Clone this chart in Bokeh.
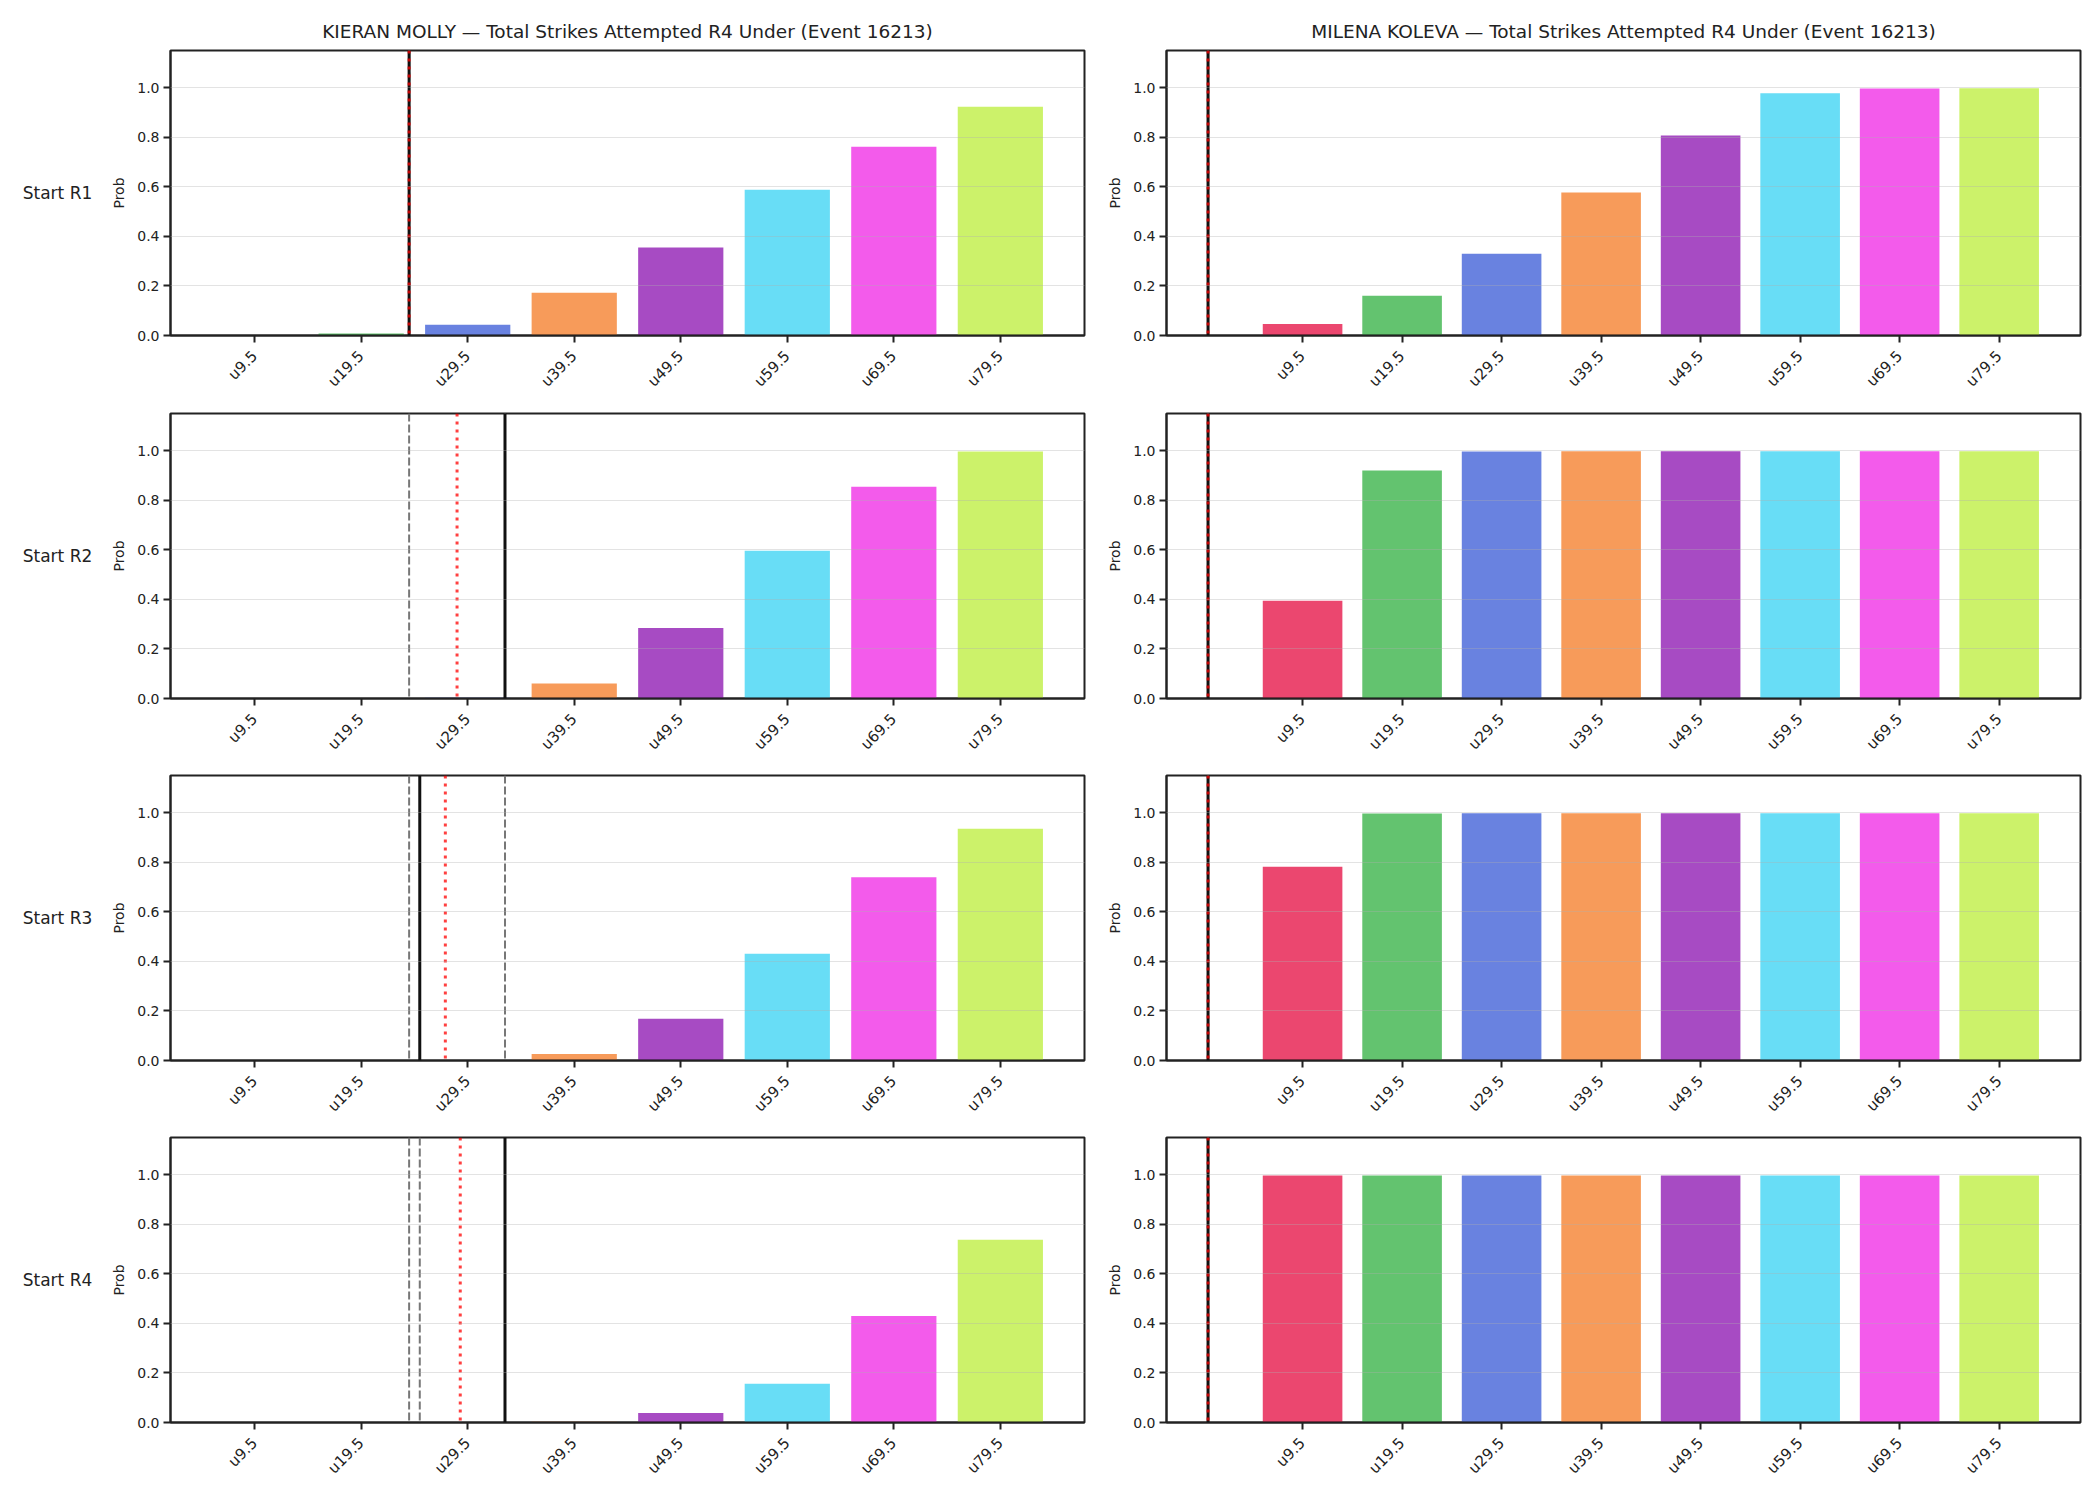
import math
from bokeh.plotting import figure
from bokeh.layouts import row, column
from bokeh.models import Range1d, FixedTicker, PrintfTickFormatter, Span
from bokeh.embed import file_html
from bokeh.resources import INLINE
from bokeh.core.properties import value

# ---------------- data ----------------
thresholds = [9.5, 19.5, 29.5, 39.5, 49.5, 59.5, 69.5, 79.5]
tick_labels = ["u9.5", "u19.5", "u29.5", "u39.5", "u49.5", "u59.5", "u69.5", "u79.5"]
bar_colors = ["#E6194B", "#3CB44B", "#4363D8", "#F58231", "#911EB4", "#42D4F4", "#F032E6", "#BFEF45"]
row_labels = ["Start R1", "Start R2", "Start R3", "Start R4"]
players = ["KIERAN MOLLY", "MILENA KOLEVA"]
title_suffix = " \u2014 Total Strikes Attempted R4 Under (Event 16213)"

kieran_r1 = [0.0, 0.008, 0.043, 0.172, 0.355, 0.588, 0.762, 0.923]
kieran_r2 = [0.0, 0.0, 0.003, 0.061, 0.284, 0.596, 0.854, 0.997]
kieran_r3 = [0.0, 0.0, 0.0, 0.026, 0.168, 0.431, 0.739, 0.935]
kieran_r4 = [0.0, 0.0, 0.0, 0.003, 0.038, 0.156, 0.430, 0.737]
milena_r1 = [0.046, 0.160, 0.330, 0.577, 0.807, 0.977, 0.997, 0.998]
milena_r2 = [0.394, 0.920, 0.997, 0.998, 0.998, 0.998, 0.998, 0.998]
milena_r3 = [0.782, 0.997, 0.998, 0.998, 0.998, 0.998, 0.998, 0.998]
milena_r4 = [0.997, 0.997, 0.997, 0.997, 0.997, 0.997, 0.997, 0.997]

# reference lines (in strikes): current (black), projection (red), range (gray)
kieran_current = [24, 33, 25, 33]
kieran_projection = [24, 28.5, 27.4, 28.8]
kieran_low = [24, 24, 24, 24]
kieran_high = [24, 33, 33, 25]
milena_current = [0, 0, 0, 0]
milena_projection = [0, 0, 0, 0]
milena_low = [0, 0, 0, 0]
milena_high = [0, 0, 0, 0]

probs = [[kieran_r1, kieran_r2, kieran_r3, kieran_r4],
         [milena_r1, milena_r2, milena_r3, milena_r4]]
currents = [kieran_current, milena_current]
projections = [kieran_projection, milena_projection]
lows = [kieran_low, milena_low]
highs = [kieran_high, milena_high]

# ---------------- layout ----------------
FONT = "DejaVu Sans"
INK = "#222222"
heights = [405, 362, 362, 371]
tops = [50, 8, 8, 8]
bottoms = [70, 69, 69, 78]
BAR_W = 8.0
Y_MAX = 1.15


def style_axes(p):
    p.xgrid.visible = False
    p.ygrid.grid_line_color = "#b0b0b0"
    p.ygrid.grid_line_alpha = 0.35
    p.ygrid.level = "overlay"
    p.outline_line_color = INK
    p.outline_line_width = 2
    p.outline_line_alpha = 1
    for ax in (p.xaxis[0], p.yaxis[0]):
        ax.axis_line_color = INK
        ax.axis_line_width = 2
        ax.major_tick_line_color = INK
        ax.major_tick_line_width = 2
        ax.major_tick_out = 7
        ax.major_tick_in = 0
        ax.minor_tick_line_color = None
        ax.major_label_text_font = FONT
        ax.major_label_text_color = INK
    p.yaxis.major_label_text_font_size = "14px"
    p.xaxis.major_label_text_font_size = "15px"
    p.yaxis.ticker = FixedTicker(ticks=[0.0, 0.2, 0.4, 0.6, 0.8, 1.0])
    p.yaxis.formatter = PrintfTickFormatter(format="%.1f")
    p.yaxis.major_label_standoff = 4
    p.yaxis.axis_label = "Prob"
    p.yaxis.axis_label_text_font = FONT
    p.yaxis.axis_label_text_font_size = "14px"
    p.yaxis.axis_label_text_font_style = "normal"
    p.yaxis.axis_label_text_color = INK
    p.yaxis.axis_label_standoff = 7
    p.xaxis.ticker = FixedTicker(ticks=thresholds)
    p.xaxis.major_label_overrides = {t: l for t, l in zip(thresholds, tick_labels)}
    p.xaxis.major_label_orientation = math.pi / 4
    p.xaxis.major_label_standoff = 11


rows = []
for r in range(4):
    lab = figure(width=100, height=heights[r], x_range=Range1d(0, 100), y_range=Range1d(0, Y_MAX),
                 min_border_left=0, min_border_right=0, min_border_top=tops[r],
                 min_border_bottom=bottoms[r], toolbar_location=None, output_backend="svg")
    lab.axis.visible = False
    lab.grid.visible = False
    lab.outline_line_color = None
    lab.text(x=[57], y=[Y_MAX / 2], text=[row_labels[r]], text_align="center",
             text_baseline="middle", text_font=value(FONT), text_font_size="17px",
             text_color=INK)
    cells = [lab]
    for c in range(2):
        marks = [currents[c][r], projections[c][r], lows[c][r], highs[c][r]]
        lo = min(min(marks), thresholds[0] - BAR_W / 2)
        hi = max(max(marks), thresholds[-1] + BAR_W / 2)
        pad = 0.05 * (hi - lo)
        if c == 0:
            w, mbl, mbr = 986, 70, 2
        else:
            w, mbl, mbr = 1014, 80, 20
        p = figure(width=w, height=heights[r], x_range=Range1d(lo - pad, hi + pad),
                   y_range=Range1d(0, Y_MAX), min_border_left=mbl, min_border_right=mbr,
                   min_border_top=tops[r], min_border_bottom=bottoms[r],
                   toolbar_location=None, output_backend="svg")
        if r == 0:
            p.title.text = players[c] + title_suffix
            p.title.align = "center"
            p.title.text_font = FONT
            p.title.text_font_size = "18.5px"
            p.title.text_font_style = "normal"
            p.title.text_color = INK
            p.title.standoff = 17
        p.vbar(x=thresholds, top=probs[c][r], width=BAR_W, fill_color=bar_colors,
               fill_alpha=0.8, line_color=None)
        for v in (lows[c][r], highs[c][r]):
            p.add_layout(Span(location=v, dimension="height", line_color="#777777",
                              line_width=2, line_dash="8 3"))
        p.add_layout(Span(location=currents[c][r], dimension="height", line_color="#111111",
                          line_width=3))
        p.add_layout(Span(location=projections[c][r], dimension="height", line_color="red",
                          line_alpha=0.75, line_width=3, line_dash="3 5"))
        style_axes(p)
        cells.append(p)
    rows.append(row(*cells))

layout = column(*rows)
open("out.html", "w").write(file_html(layout, INLINE))
